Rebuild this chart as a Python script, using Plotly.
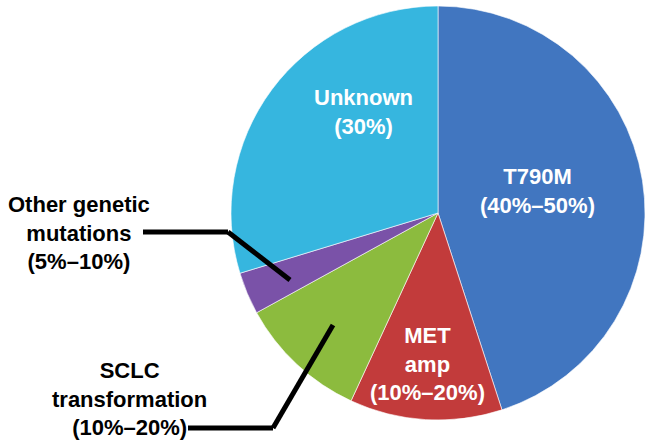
import plotly.graph_objects as go

categories = ["T790M", "MET amp", "SCLC transformation", "Other genetic mutations", "Unknown"]
values = [45.0, 11.9, 10.1, 3.3, 29.7]
colors = ["#4176c0", "#c23b3b", "#8cbb3e", "#7a52a8", "#36b6df"]

# label text and its placement (pixel positions of text-block centres)
label_text = ["T790M<br>(40%–50%)", "MET<br>amp<br>(10%–20%)", "SCLC<br>transformation<br>(10%–20%)",
              "Other genetic<br>mutations<br>(5%–10%)", "Unknown<br>(30%)"]
label_color = ["white", "white", "black", "black", "white"]
label_pos = [(537, 191), (427, 364), (129, 399), (79, 233), (363, 112)]

W, H = 658, 445
CX, CY, R = 438, 213, 207

fig = go.Figure(go.Pie(
    labels=categories,
    values=values,
    textinfo="none",
    sort=False,
    direction="clockwise",
    rotation=0,
    marker=dict(colors=colors, line=dict(color="rgba(255,255,255,0.6)", width=1)),
    hoverinfo="label+percent",
    domain=dict(x=[(CX - R) / W, (CX + R) / W], y=[(H - CY - R) / H, (H - CY + R) / H]),
    showlegend=False,
))

def px(x, y):
    return x / W, 1 - y / H

shapes = []
for (x0, y0, x1, y1) in [(143, 232, 228, 232), (228, 232, 290, 280),
                         (188, 428, 273, 428), (273, 428, 333, 325)]:
    a, b = px(x0, y0)
    c, d = px(x1, y1)
    shapes.append(dict(type="line", xref="paper", yref="paper", x0=a, y0=b, x1=c, y1=d,
                       line=dict(color="black", width=5)))

annotations = []
for txt, col, (x, y) in zip(label_text, label_color, label_pos):
    a, b = px(x, y)
    annotations.append(dict(text=f"<b>{txt}</b>", x=a, y=b, xref="paper", yref="paper",
                            xanchor="center", yanchor="middle",
                            showarrow=False, align="center",
                            font=dict(family="Liberation Sans, Arial", size=22, color=col)))

fig.update_layout(
    width=W, height=H,
    margin=dict(l=0, r=0, t=0, b=0),
    paper_bgcolor="white",
    plot_bgcolor="white",
    shapes=shapes,
    annotations=annotations,
)
fig.write_html("out.html", config={"displayModeBar": False},
               post_script="document.body.style.margin='0';")
